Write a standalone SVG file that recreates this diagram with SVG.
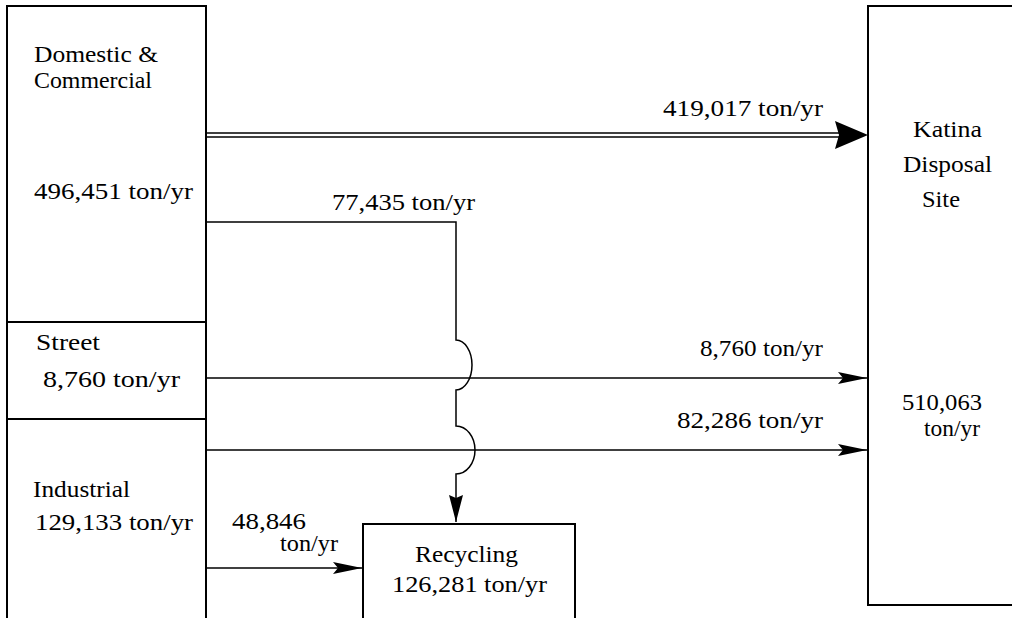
<svg xmlns="http://www.w3.org/2000/svg" width="1012" height="618" viewBox="0 0 1012 618">
<style>
  .box { fill: none; stroke: #000; stroke-width: 2; }
  .ln { fill: none; stroke: #000; stroke-width: 1.5; }
  .t { font-family: "Liberation Serif", "Times New Roman", serif; font-size: 23px; fill: #000; }
</style>
<defs>
  <marker id="ah" markerUnits="userSpaceOnUse" markerWidth="30" markerHeight="14" refX="29" refY="7" orient="auto">
    <path d="M0,1 L29,7 L0,13 L5,7 Z" fill="#000"/>
  </marker>
  <marker id="ahv" markerUnits="userSpaceOnUse" markerWidth="28" markerHeight="14" refX="27" refY="7" orient="auto">
    <path d="M0,0 L27,7 L0,14 L3,7 Z" fill="#000"/>
  </marker>
</defs>

<g id="sources">
  <path class="box" d="M7,618 V6 H206 V618"/>
  <line class="box" x1="7" y1="322" x2="206" y2="322"/>
  <line class="box" x1="7" y1="419" x2="206" y2="419"/>
</g>
<g id="domestic">
  <text class="t" x="34" y="62" textLength="124" lengthAdjust="spacingAndGlyphs">Domestic &amp;</text>
  <text class="t" x="34" y="88" textLength="118" lengthAdjust="spacingAndGlyphs">Commercial</text>
  <text class="t" x="34" y="199" textLength="159" lengthAdjust="spacingAndGlyphs">496,451 ton/yr</text>
</g>
<g id="street">
  <text class="t" x="36" y="350" textLength="64" lengthAdjust="spacingAndGlyphs">Street</text>
  <text class="t" x="43" y="387" textLength="137" lengthAdjust="spacingAndGlyphs">8,760 ton/yr</text>
</g>
<g id="industrial">
  <text class="t" x="33" y="497" textLength="97" lengthAdjust="spacingAndGlyphs">Industrial</text>
  <text class="t" x="35" y="530" textLength="158" lengthAdjust="spacingAndGlyphs">129,133 ton/yr</text>
</g>
<g id="katina">
  <path class="box" d="M1012,6 H868 V605 H1012"/>
  <text class="t" x="913" y="137" textLength="69" lengthAdjust="spacingAndGlyphs">Katina</text>
  <text class="t" x="903" y="172" textLength="89" lengthAdjust="spacingAndGlyphs">Disposal</text>
  <text class="t" x="922" y="207" textLength="38" lengthAdjust="spacingAndGlyphs">Site</text>
  <text class="t" x="902" y="410" textLength="80" lengthAdjust="spacingAndGlyphs">510,063</text>
  <text class="t" x="924" y="436" textLength="56" lengthAdjust="spacingAndGlyphs">ton/yr</text>
</g>
<g id="recycling">
  <path class="box" d="M363,618 V524 H575 V618"/>
  <text class="t" x="415" y="562" textLength="103" lengthAdjust="spacingAndGlyphs">Recycling</text>
  <text class="t" x="392" y="592" textLength="155" lengthAdjust="spacingAndGlyphs">126,281 ton/yr</text>
</g>

<g id="connectors">
  <line class="ln" x1="206" y1="133" x2="840" y2="133"/>
  <line class="ln" x1="206" y1="137" x2="840" y2="137"/>
  <path d="M835,121 L868,135 L835,149 L839,135 Z" fill="#000"/>
  <text class="t" x="663" y="116" textLength="160" lengthAdjust="spacingAndGlyphs">419,017 ton/yr</text>

  <line class="ln" x1="206" y1="378" x2="867" y2="378" marker-end="url(#ah)"/>
  <text class="t" x="700" y="356" textLength="123" lengthAdjust="spacingAndGlyphs">8,760 ton/yr</text>

  <line class="ln" x1="206" y1="450" x2="867" y2="450" marker-end="url(#ah)"/>
  <text class="t" x="677" y="428" textLength="146" lengthAdjust="spacingAndGlyphs">82,286 ton/yr</text>

  <path class="ln" d="M206,222 H456 V340 A16,25 0 0 1 456,390 V426 A19,24 0 0 1 456,474 V522" stroke-width="2" marker-end="url(#ahv)"/>
  <text class="t" x="332" y="210" textLength="143" lengthAdjust="spacingAndGlyphs">77,435 ton/yr</text>

  <line class="ln" x1="206" y1="568" x2="362" y2="568" marker-end="url(#ah)"/>
  <text class="t" x="232" y="529" textLength="74" lengthAdjust="spacingAndGlyphs">48,846</text>
  <text class="t" x="280" y="551" textLength="58" lengthAdjust="spacingAndGlyphs">ton/yr</text>
</g>
</svg>
